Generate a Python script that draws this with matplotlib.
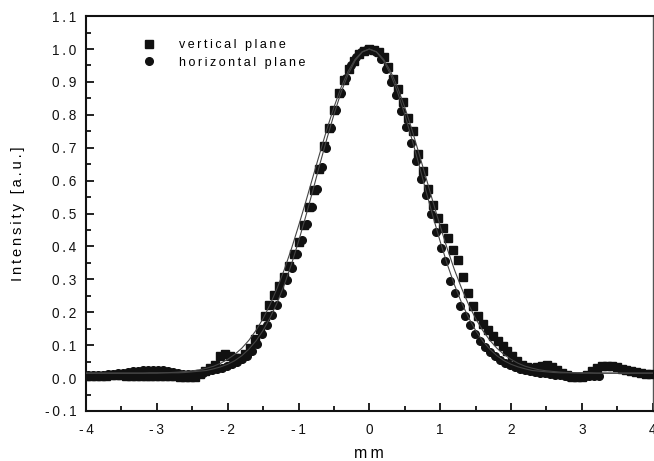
import numpy as np
import matplotlib
matplotlib.use("Agg")
import matplotlib.pyplot as plt
from matplotlib.ticker import MultipleLocator, FuncFormatter

plt.rcParams['font.family'] = ['Liberation Sans', 'DejaVu Sans']
plt.rcParams['axes.unicode_minus'] = False

# ---- data ----
vertical_x = np.round(-4.0 + 0.07 * np.arange(115), 3)
vertical_y = [
    0.005, 0.005, 0.006, 0.006, 0.007, 0.008, 0.008, 0.008, 0.007, 0.006,
    0.006, 0.006, 0.006, 0.006, 0.006, 0.006, 0.006, 0.005, 0.005, 0.004,
    0.003, 0.002, 0.004, 0.012, 0.022, 0.032, 0.040, 0.068, 0.073, 0.066,
    0.060, 0.062, 0.072, 0.092, 0.118, 0.150, 0.188, 0.222, 0.252, 0.280,
    0.308, 0.340, 0.378, 0.415, 0.465, 0.520, 0.572, 0.635, 0.705, 0.760,
    0.815, 0.865, 0.905, 0.940, 0.965, 0.985, 0.995, 1.000, 0.998, 0.990,
    0.975, 0.945, 0.910, 0.878, 0.840, 0.790, 0.750, 0.681, 0.630, 0.575,
    0.525, 0.488, 0.456, 0.425, 0.390, 0.358, 0.308, 0.260, 0.220, 0.188,
    0.163, 0.145, 0.128, 0.114, 0.098, 0.082, 0.066, 0.052, 0.041, 0.035,
    0.032, 0.034, 0.038, 0.040, 0.035, 0.025, 0.015, 0.008, 0.004, 0.003,
    0.004, 0.010, 0.022, 0.032, 0.037, 0.038, 0.036, 0.033, 0.029, 0.025,
    0.021, 0.017, 0.014, 0.012, 0.011,
]

horizontal_x = np.round(-3.965 + 0.07 * np.arange(104), 3)
horizontal_y = [
    0.008, 0.008, 0.009, 0.010, 0.011, 0.012, 0.014, 0.016, 0.018, 0.020,
    0.022, 0.024, 0.025, 0.026, 0.026, 0.025, 0.022, 0.019, 0.016, 0.013,
    0.011, 0.011, 0.013, 0.016, 0.020, 0.024, 0.028, 0.032, 0.037, 0.043,
    0.050, 0.058, 0.068, 0.083, 0.105, 0.135, 0.162, 0.192, 0.222, 0.258,
    0.298, 0.335, 0.378, 0.420, 0.468, 0.520, 0.575, 0.640, 0.700, 0.760,
    0.815, 0.865, 0.912, 0.950, 0.975, 0.990, 0.998, 0.998, 0.990, 0.970,
    0.940, 0.900, 0.860, 0.812, 0.762, 0.715, 0.660, 0.605, 0.555, 0.500,
    0.445, 0.395, 0.355, 0.295, 0.258, 0.220, 0.190, 0.160, 0.135, 0.113,
    0.095, 0.080, 0.066, 0.055, 0.046, 0.039, 0.033, 0.028, 0.024, 0.021,
    0.018, 0.016, 0.014, 0.012, 0.010, 0.008, 0.006, 0.004, 0.003, 0.003,
    0.004, 0.005, 0.006, 0.006,
]

fit_x = np.round(np.arange(-40, 41) * 0.1, 2)
vertical_fit = [
    0.015, 0.015, 0.015, 0.015, 0.015, 0.015, 0.015, 0.015, 0.015, 0.016,
    0.016, 0.016, 0.017, 0.018, 0.020, 0.022, 0.025, 0.030, 0.036, 0.045,
    0.057, 0.072, 0.091, 0.115, 0.145, 0.181, 0.224, 0.274, 0.330, 0.393,
    0.462, 0.534, 0.609, 0.683, 0.756, 0.823, 0.883, 0.932, 0.969, 0.992,
    1.000,
    0.992, 0.969, 0.932, 0.883, 0.823, 0.756, 0.683, 0.609, 0.534, 0.462,
    0.393, 0.330, 0.274, 0.224, 0.181, 0.145, 0.115, 0.091, 0.072, 0.057,
    0.045, 0.036, 0.030, 0.025, 0.022, 0.020, 0.018, 0.017, 0.016, 0.016,
    0.016, 0.015, 0.015, 0.015, 0.015, 0.015, 0.015, 0.015, 0.015, 0.015,
]
horizontal_fit = [
    0.015, 0.015, 0.015, 0.015, 0.015, 0.015, 0.015, 0.015, 0.015, 0.015,
    0.015, 0.016, 0.016, 0.016, 0.017, 0.019, 0.021, 0.023, 0.028, 0.034,
    0.042, 0.053, 0.068, 0.088, 0.113, 0.145, 0.184, 0.230, 0.284, 0.346,
    0.415, 0.490, 0.568, 0.649, 0.727, 0.801, 0.868, 0.923, 0.965, 0.991,
    1.000,
    0.991, 0.965, 0.923, 0.868, 0.801, 0.727, 0.649, 0.568, 0.490, 0.415,
    0.346, 0.284, 0.230, 0.184, 0.145, 0.113, 0.088, 0.068, 0.053, 0.042,
    0.034, 0.028, 0.023, 0.021, 0.019, 0.017, 0.016, 0.016, 0.016, 0.015,
    0.015, 0.015, 0.015, 0.015, 0.015, 0.015, 0.015, 0.015, 0.015, 0.015,
]

labels = ["vertical plane", "horizontal plane"]
x_label = "mm"
y_label = "Intensity [a.u.]"


def tracked(s):
    # emulate the wide letter spacing of the original typesetting
    return "\u2009".join(s)


# ---- figure ----
fig = plt.figure(figsize=(6.54, 4.61), dpi=100)
ax = fig.add_axes([0.1315, 0.1085, 0.8665, 0.8565])

ax.plot(vertical_x, vertical_y, linestyle='none', marker='s', markersize=5.2,
        color='#111111', label=tracked(labels[0]), zorder=3)
ax.plot(horizontal_x, horizontal_y, linestyle='none', marker='o', markersize=5.5,
        color='#111111', label=tracked(labels[1]), zorder=3)
ax.plot(fit_x, vertical_fit, color='#444444', linewidth=0.8, zorder=4)
ax.plot(fit_x, horizontal_fit, color='#444444', linewidth=0.8, zorder=4)

ax.set_xlim(-4, 4)
ax.set_ylim(-0.1, 1.1)
ax.xaxis.set_major_locator(MultipleLocator(1))
ax.xaxis.set_minor_locator(MultipleLocator(0.5))
ax.yaxis.set_major_locator(MultipleLocator(0.1))
ax.yaxis.set_minor_locator(MultipleLocator(0.05))
ax.yaxis.set_major_formatter(FuncFormatter(lambda v, p: tracked('%.1f' % v)))
ax.xaxis.set_major_formatter(FuncFormatter(lambda v, p: tracked('%d' % round(v))))

ax.tick_params(axis='both', which='both', direction='in', top=False, right=False,
               labelsize=9.8, colors='#111111', width=1.3)
ax.tick_params(axis='x', which='major', length=5.5, pad=9)
ax.tick_params(axis='y', which='major', length=5.5, pad=7)
ax.tick_params(axis='both', which='minor', length=3.5)

for side in ['left', 'bottom', 'top']:
    ax.spines[side].set_linewidth(1.5)
    ax.spines[side].set_color('#111111')
ax.spines['right'].set_linewidth(1.0)
ax.spines['right'].set_color('#555555')

ax.set_xlabel(tracked(x_label), fontsize=11.5, labelpad=6)
ax.set_ylabel(tracked(y_label), fontsize=10.5, labelpad=14)

ax.legend(loc='upper left', bbox_to_anchor=(0.0913, 0.955), frameon=False,
          fontsize=9, handlelength=1.0, handletextpad=1.9, labelspacing=0.45,
          borderaxespad=0)

fig.savefig('out.png', dpi=100)
